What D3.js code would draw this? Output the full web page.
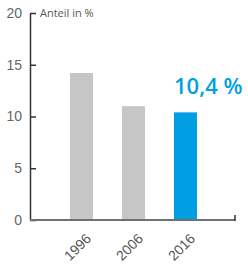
<!DOCTYPE html>
<html>
<head>
<meta charset="utf-8">
<script src="https://cdn.jsdelivr.net/npm/d3@7"></script>
<style>
  body { margin: 0; background: #fff; }
  svg { display: block; }
</style>
</head>
<body>
<div id="vis"></div>
<script>
const years = ["1996", "2006", "2016"]
const shares = [14.2, 11.0, 10.4]
const yTicks = [0, 5, 10, 15, 20]
const highlightLabel = "10,4 %"
const unitLabel = "Anteil in %"

const width = 248
const height = 265
const margin = { top: 13, right: 13, bottom: 45, left: 30 }

const svg = d3.select("#vis").append("svg")
  .attr("width", width)
  .attr("height", height)
  .attr("font-family", "'Open Sans', sans-serif")

const x = d3.scaleBand()
  .domain(years)
  .range([margin.left, width - margin.right + 2])
  .paddingInner(0.558)
  .paddingOuter(0.77)

const y = d3.scaleLinear()
  .domain([0, 20])
  .range([height - margin.bottom, margin.top])

// bars
svg.append("g")
  .selectAll("rect")
  .data(years)
  .join("rect")
  .attr("x", d => x(d))
  .attr("y", (d, i) => y(shares[i]))
  .attr("width", x.bandwidth())
  .attr("height", (d, i) => y(0) - y(shares[i]))
  .attr("fill", (d, i) => i === years.length - 1 ? "#009fe3" : "#c6c6c6")

// y axis, ticks pointing inward
const yAxis = svg.append("g")
  .attr("transform", `translate(${margin.left},0)`)
  .call(d3.axisLeft(y).tickValues(yTicks).tickSize(-6).tickPadding(8).tickSizeOuter(0))
yAxis.select(".domain").attr("stroke", "#333").attr("stroke-width", 1.5)
yAxis.selectAll(".tick line").attr("stroke", "#333").attr("stroke-width", 1.5)
yAxis.selectAll(".tick text")
  .attr("fill", "#666")
  .attr("font-size", 14)
  .attr("font-weight", 300)

// x axis
const xAxis = svg.append("g")
  .attr("transform", `translate(0,${y(0)})`)
  .call(d3.axisBottom(x).tickSize(0).tickPadding(0))
xAxis.select(".domain").remove()
xAxis.append("line")
  .attr("x1", margin.left).attr("x2", width - margin.right)
  .attr("y1", 0).attr("y2", 0)
  .attr("stroke", "#707070").attr("stroke-width", 2)
xAxis.append("line")
  .attr("x1", width - margin.right).attr("x2", width - margin.right)
  .attr("y1", 1).attr("y2", -5)
  .attr("stroke", "#333").attr("stroke-width", 1.5)
xAxis.selectAll(".tick text")
  .attr("fill", "#555")
  .attr("font-size", 14)
  .attr("font-weight", 300)
  .attr("text-anchor", "end")
  .attr("y", 0)
  .attr("dy", "0.35em")
  .attr("transform", "translate(7,16) rotate(-45)")

// unit label
svg.append("text")
  .attr("x", margin.left + 10)
  .attr("y", y(20))
  .attr("dy", "0.35em")
  .attr("font-size", 11)
  .attr("fill", "#555")
  .text(unitLabel)

// highlight value
svg.append("text")
  .attr("x", x(years[2]))
  .attr("y", y(shares[2]) - 18)
  .attr("font-size", 22)
  .attr("font-weight", 600)
  .attr("fill", "#009fe3")
  .text(highlightLabel)
</script>
</body>
</html>
